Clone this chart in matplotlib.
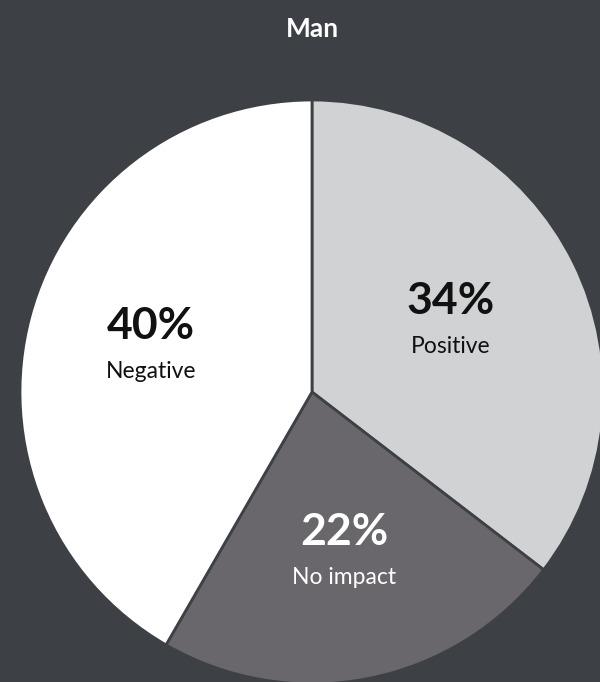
import numpy as np
import matplotlib.pyplot as plt

labels = ["Positive", "No impact", "Negative"]
values = [34, 22, 40]
colors = ["#d1d2d4", "#69676c", "#ffffff"]
text_colors = ["#111111", "#ffffff", "#111111"]

bg = "#3d4045"
W, H = 600, 682

fig = plt.figure(figsize=(W / 100, H / 100), dpi=100, facecolor=bg)
ax = fig.add_axes([0, 0, 1, 1])
ax.set_facecolor(bg)

cx, cy, R = 312, H - 392, 292
wedges, _ = ax.pie(values, colors=colors, startangle=90, counterclock=False,
                   center=(cx, cy), radius=R, frame=True,
                   wedgeprops=dict(edgecolor="#3d4045", linewidth=2))
ax.set_xlim(0, W)
ax.set_ylim(0, H)
ax.set_aspect("equal")
ax.axis("off")

# label centre distance as fraction of the radius
dist = [0.53, 0.57, 0.57]
for w, lab, val, tc, d in zip(wedges, labels, values, text_colors, dist):
    ang = np.deg2rad((w.theta1 + w.theta2) / 2)
    x = cx + d * R * np.cos(ang)
    y = cy + d * R * np.sin(ang)
    ax.text(x, y + 3, f"{val}%", ha="center", va="bottom", color=tc,
            fontsize=32, fontweight="bold", family="Lato")
    ax.text(x, y - 12, lab, ha="center", va="top", color=tc,
            fontsize=16.5, family="Lato")

fig.text(312 / W, 1 - 29 / H, "Man", ha="center", va="center", color="white",
         fontsize=19, fontweight="bold", family="Lato")

fig.savefig("out.png", dpi=100, facecolor=bg)
